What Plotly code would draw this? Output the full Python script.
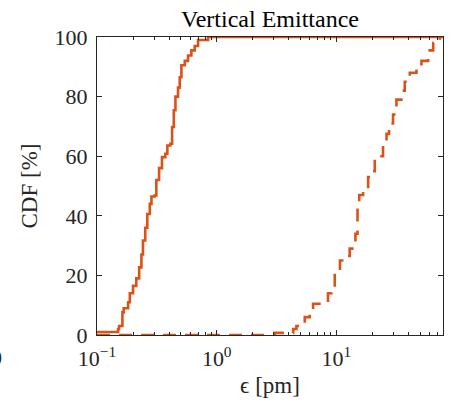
import plotly.graph_objects as go

# Empirical CDF of vertical emittance (step curves)
eps_a = [0.1, 0.150, 0.153, 0.163, 0.167, 0.182, 0.188, 0.200, 0.213, 0.225, 0.235,
         0.242, 0.253, 0.263, 0.276, 0.285, 0.303, 0.313, 0.330, 0.349, 0.372,
         0.387, 0.410, 0.424, 0.438, 0.452, 0.475, 0.491, 0.507, 0.541, 0.576,
         0.614, 0.655, 0.698, 0.847, 80.0]
cdf_a = [1.0, 2.0, 3.0, 7.6, 9.0, 11.0, 14.0, 16.5, 19.0, 22.7, 27.0,
         31.7, 36.0, 40.6, 44.0, 46.5, 46.8, 52.0, 56.0, 59.7, 60.8,
         63.6, 64.2, 69.8, 75.4, 80.0, 83.0, 86.5, 90.5, 92.0, 93.8,
         95.5, 97.0, 99.0, 100.0, 100.0]

eps_b = [0.1, 3.06, 4.35, 4.63, 5.44, 5.98, 6.38, 8.5, 9.08, 9.68, 10.7, 11.7,
         12.9, 14.4, 15.0, 15.5, 16.7, 18.4, 19.6, 20.9, 24.5, 26.2, 27.5,
         29.7, 31.7, 34.9, 37.2, 41.0, 46.6, 51.3, 58.3, 64.3, 68.5, 73.0]
cdf_b = [0.0, 0.7, 2.0, 3.0, 6.0, 7.0, 10.5, 14.0, 16.0, 21.6, 25.0, 26.5,
         29.0, 34.0, 43.0, 47.0, 48.5, 53.0, 55.0, 60.0, 64.0, 67.5, 71.0,
         74.0, 79.0, 82.0, 85.0, 88.0, 90.0, 92.0, 95.5, 98.0, 99.5, 100.0]

x_ticks = [0.1, 1, 10]
x_tick_text = ["10<sup>\u22121</sup>", "10<sup>0</sup>", "10<sup>1</sup>"]
y_ticks = [0, 20, 40, 60, 80, 100]

color = "#D95319"
axis_color = "#262626"
font_family = "Liberation Serif, DejaVu Serif, serif"

minor_vals = [m * d for d in (0.1, 1, 10) for m in range(2, 10)]

fig = go.Figure()
fig.add_trace(go.Scatter(x=eps_a, y=cdf_a, mode="lines", line_shape="hv",
                         line=dict(color=color, width=2.6), showlegend=False))
fig.add_trace(go.Scatter(x=eps_b, y=cdf_b, mode="lines", line_shape="hv",
                         line=dict(color=color, width=2.6, dash="13px,9px"),
                         showlegend=False))

fig.update_layout(
    width=454, height=405,
    margin=dict(l=97, r=11, t=37, b=70),
    paper_bgcolor="white", plot_bgcolor="white",
    font=dict(family=font_family, size=22, color=axis_color),
    title=dict(text="Vertical Emittance", x=0.5, xref="paper", xanchor="center",
               y=0.955, yanchor="middle", font=dict(size=24, color="#000000")),
)
fig.update_xaxes(
    type="log", range=[-1, 1.89],
    tickvals=x_ticks, ticktext=x_tick_text,
    ticks="inside", ticklen=5, tickcolor=axis_color, tickwidth=1,
    ticklabelstandoff=4,
    minor=dict(tickvals=minor_vals, ticks="inside", ticklen=3, tickcolor=axis_color, showgrid=False),
    showline=True, linecolor=axis_color, linewidth=1, mirror="ticks",
    showgrid=False, zeroline=False,
    title=dict(text="\u03f5 [pm]", standoff=6, font=dict(size=23)),
)
fig.update_yaxes(
    range=[0, 100], tickvals=y_ticks,
    ticks="inside", ticklen=5, tickcolor=axis_color, tickwidth=1,
    ticklabelstandoff=4,
    showline=True, linecolor=axis_color, linewidth=1, mirror="ticks",
    showgrid=False, zeroline=False,
    title=dict(text="CDF [%]", standoff=10, font=dict(size=23)),
)

# tick label of a neighbouring panel partially visible at the left edge
fig.add_annotation(text="0", xref="paper", yref="paper", x=-0.29, y=-0.075,
                   xanchor="center", yanchor="middle", showarrow=False,
                   font=dict(size=22, color=axis_color, family=font_family))

fig.write_html("out.html")
